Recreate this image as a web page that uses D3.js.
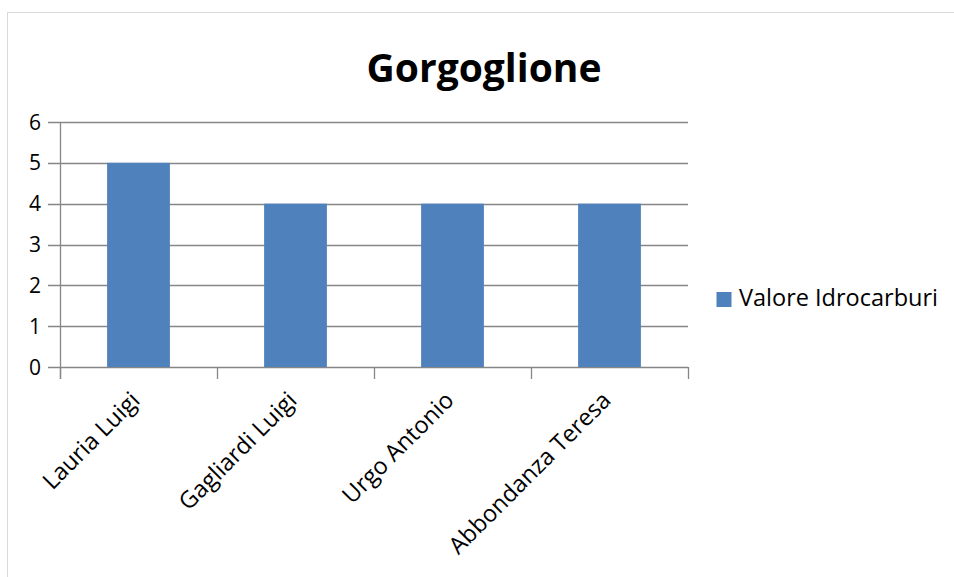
<!DOCTYPE html>
<html><head><meta charset="utf-8">
<script src="https://cdn.jsdelivr.net/npm/d3@7"></script>
<style>body{margin:0;background:#fff;} svg{display:block;}</style>
</head><body>
<svg id="c" width="954" height="577"></svg>
<script>
const categories = ["Lauria Luigi", "Gagliardi Luigi", "Urgo Antonio", "Abbondanza Teresa"];
const values = [5, 4, 4, 4];
const yTicks = [0, 1, 2, 3, 4, 5, 6];
const seriesName = "Valore Idrocarburi";
const title = "Gorgoglione";

(function () {
const FONT = "'Open Sans', 'Liberation Sans', sans-serif";
const svg = d3.select("#c");
svg.append("rect").attr("x", 7.5).attr("y", 12.5).attr("width", 1000).attr("height", 1000)
  .attr("fill", "#fff").attr("stroke", "#d9d9d9").attr("stroke-width", 1);

const pL = 60, pR = 688, pT = 122, pB = 367;
const x = d3.scaleBand().domain(categories).range([pL, pR]).paddingInner(0.6).paddingOuter(0.3);
const xb = d3.scaleBand().domain(categories).range([pL, pR]);
const y = d3.scaleLinear().domain([0, 6]).range([pB, pT]);

svg.append("g").selectAll("line").data(yTicks).join("line")
  .attr("x1", pL - 12).attr("x2", pR).attr("y1", d => Math.round(y(d)) + 0.5).attr("y2", d => Math.round(y(d)) + 0.5)
  .attr("stroke", "#868686").attr("stroke-width", 1.3);

svg.append("g").selectAll("rect").data(values).join("rect")
  .attr("x", (d, i) => x(categories[i])).attr("width", x.bandwidth())
  .attr("y", d => y(d)).attr("height", d => y(0) - y(d))
  .attr("fill", "#4f81bd");

svg.append("line").attr("x1", pL + 0.5).attr("x2", pL + 0.5).attr("y1", pT).attr("y2", pB + 12)
  .attr("stroke", "#868686").attr("stroke-width", 1.3);
const xt = categories.map(c => xb(c)).concat([pR]);
svg.append("g").selectAll("line").data(xt).join("line")
  .attr("x1", d => Math.round(d) + 0.5).attr("x2", d => Math.round(d) + 0.5).attr("y1", pB).attr("y2", pB + 12)
  .attr("stroke", "#868686").attr("stroke-width", 1.3);

svg.append("g").selectAll("text").data(yTicks).join("text")
  .attr("x", 41).attr("y", d => y(d)).attr("dy", "0.36em").attr("text-anchor", "end")
  .attr("font-family", FONT).attr("font-size", 21).attr("fill", "#000").text(d => d);

svg.append("g").selectAll("text").data(categories).join("text")
  .attr("transform", d => `translate(${xb(d) + xb.bandwidth() / 2 - 3},${pB + 29}) rotate(-45)`)
  .attr("text-anchor", "end").attr("dy", "0.35em")
  .attr("font-family", FONT).attr("font-size", 23.5).attr("fill", "#000").text(d => d);

svg.append("text").attr("x", 484).attr("y", 82).attr("text-anchor", "middle")
  .attr("font-family", FONT).attr("font-weight", "bold").attr("font-size", 39).attr("fill", "#000").text(title);

svg.append("rect").attr("x", 716.5).attr("y", 292).attr("width", 15).attr("height", 15).attr("fill", "#4f81bd");
svg.append("text").attr("x", 739).attr("y", 306)
  .attr("font-family", FONT).attr("font-size", 23.5).attr("fill", "#000").text(seriesName);
})();
</script>
</body></html>
